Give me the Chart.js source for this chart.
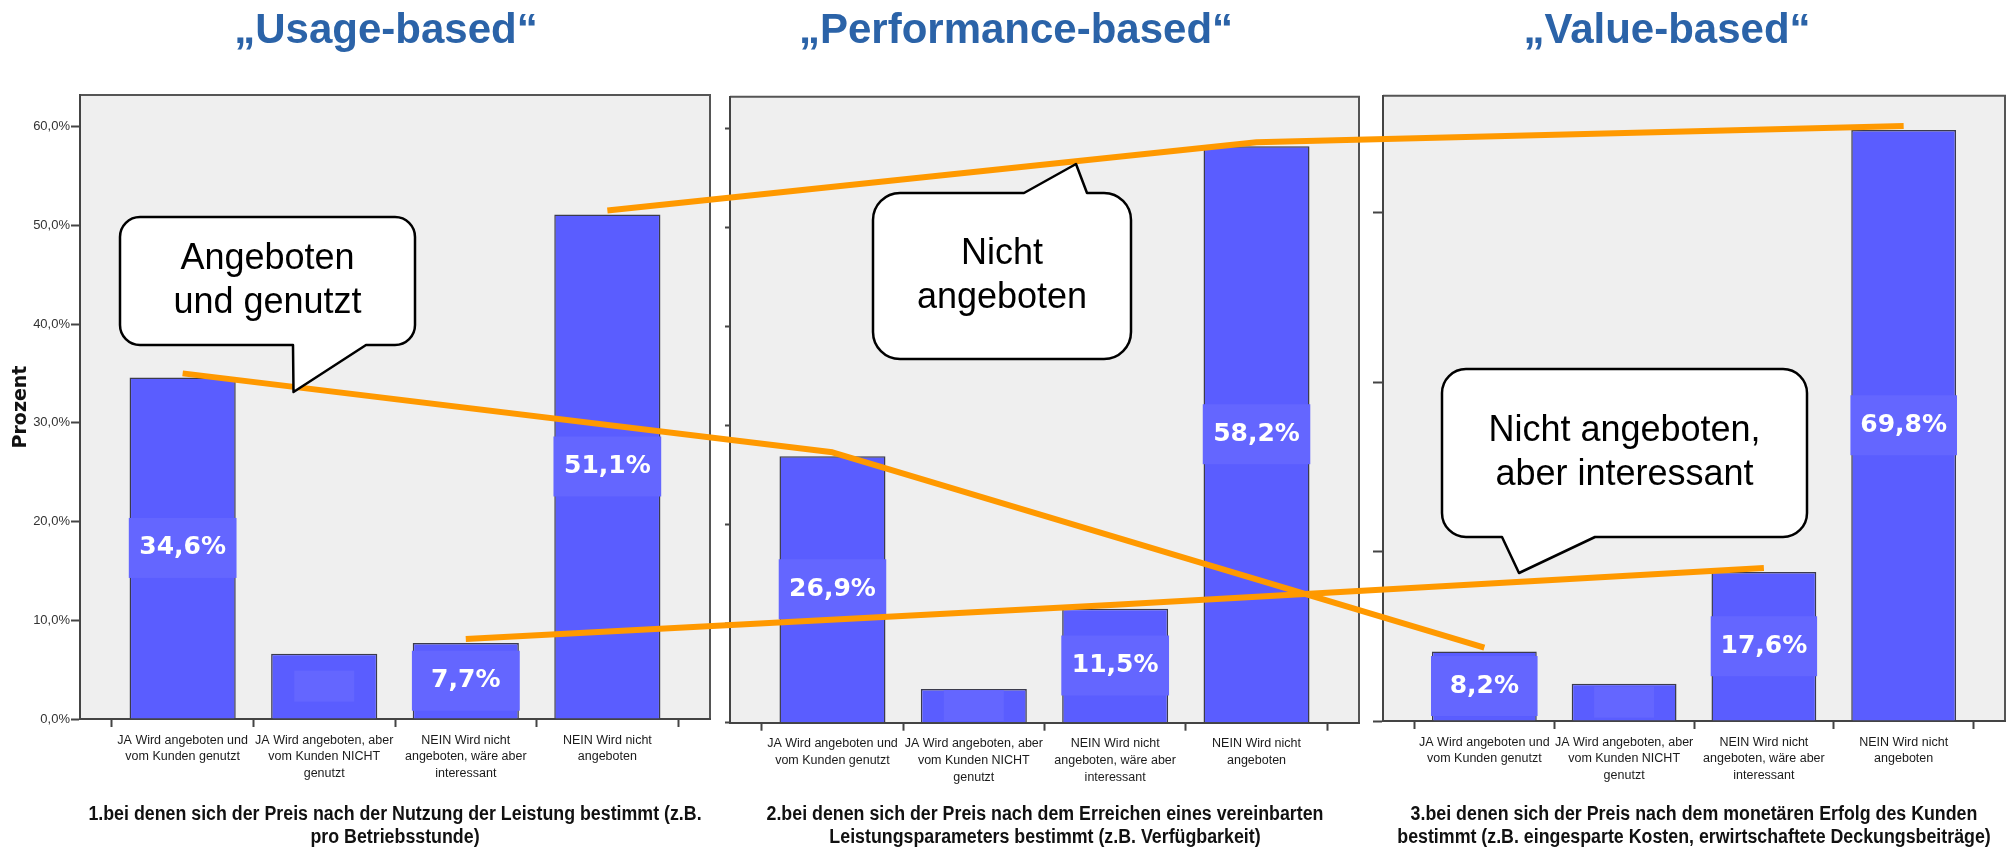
<!DOCTYPE html>
<html lang="de">
<head>
<meta charset="utf-8">
<title>Preismodelle: Usage-, Performance- und Value-based</title>
<script src="https://cdn.jsdelivr.net/npm/chart.js@4.4.1/dist/chart.umd.min.js"></script>
<style>
  html, body { margin: 0; padding: 0; background: #fff; overflow: hidden; }
  #stage { position: relative; width: 2007px; height: 851px; overflow: hidden; }
  #stage canvas { position: absolute; top: 0; }
  #overlay { z-index: 2; pointer-events: none; }
  .heading {
    position: absolute; top: 8px; transform: translateX(-50%);
    font: bold 42px 'Liberation Sans', Arial, sans-serif; line-height: 42px;
    color: #2B63A8; white-space: nowrap;
  }
  .caption {
    position: absolute; top: 802px; width: 0; white-space: nowrap;
    font: bold 20px 'Liberation Sans', Arial, sans-serif;
    line-height: 23px; color: #111;
  }
  .caption span {
    display: block; width: max-content;
    transform: translateX(-50%) scaleX(0.89); transform-origin: 50% 50%;
  }
</style>
</head>
<body>
<div id="stage">
  <canvas id="overlay" width="2007" height="851" style="left:0;width:2007px;height:851px"></canvas>
</div>
<script>
// ---- data ----
const CATEGORIES = [
  ['JA Wird angeboten und', 'vom Kunden genutzt'],
  ['JA Wird angeboten, aber', 'vom Kunden NICHT', 'genutzt'],
  ['NEIN Wird nicht', 'angeboten, wäre aber', 'interessant'],
  ['NEIN Wird nicht', 'angeboten']
];
const USAGE_PCT = [34.6, 6.6, 7.7, 51.1];
const PERFORMANCE_PCT = [26.9, 3.4, 11.5, 58.2];
const VALUE_PCT = [8.2, 4.4, 17.6, 69.8];
const SERIES = [USAGE_PCT, PERFORMANCE_PCT, VALUE_PCT];
const LABELLED = [true, false, true, true];
const TICKS_TEN = [0, 10, 20, 30, 40, 50, 60];
const TICKS_TWENTY = [0, 20, 40, 60];
const HEADINGS = ['„Usage-based“', '„Performance-based“', '„Value-based“'];
const CAPTIONS = [
  ['1.bei denen sich der Preis nach der Nutzung der Leistung bestimmt (z.B.', 'pro Betriebsstunde)'],
  ['2.bei denen sich der Preis nach dem Erreichen eines vereinbarten', 'Leistungsparameters bestimmt (z.B. Verfügbarkeit)'],
  ['3.bei denen sich der Preis nach dem monetären Erfolg des Kunden', 'bestimmt (z.B. eingesparte Kosten, erwirtschaftete Deckungsbeiträge)']
];
const CALLOUT_TEXT = [
  ['Angeboten', 'und genutzt'],
  ['Nicht', 'angeboten'],
  ['Nicht angeboten,', 'aber interessant']
];
// categories joined across the three panels by the orange trend lines
const TREND_CATEGORIES = [0, 3, 2];

// ---- layout & style ----
const H = 851;
const SANS = "'Liberation Sans', Arial, sans-serif";
const BAR = '#5A5DFF';
const BOX = '#6466FF';
const ORANGE = '#FF9900';

const PANELS = [
  { left: 0,    axis: 80, plot: 630, top: 95,   bottom: 719,   yMax: 63.2,  yTicks: TICKS_TEN,    tickLength: 9,  labelled: true,  headingX: 386 },
  { left: 705,  axis: 25, plot: 629, top: 96.7, bottom: 722.7, yMax: 63.2,  yTicks: TICKS_TEN,    tickLength: 5,  labelled: false, headingX: 1016 },
  { left: 1362, axis: 21, plot: 622, top: 95.7, bottom: 721,   yMax: 73.85, yTicks: TICKS_TWENTY, tickLength: 10, labelled: false, headingX: 1667 }
];

const CALLOUTS = [
  { text: CALLOUT_TEXT[0], box: [120, 217, 415, 345],  r: 20, tail: { side: 'bottom', from: 293,  to: 366,  tip: [293.5, 392] } },
  { text: CALLOUT_TEXT[1], box: [873, 193, 1131, 359], r: 27, tail: { side: 'top',    from: 1024, to: 1087, tip: [1076, 164] } },
  { text: CALLOUT_TEXT[2], box: [1442, 369, 1807, 537], r: 24, tail: { side: 'bottom', from: 1502, to: 1595, tip: [1519, 573] } }
];

const fmtPct = v => v.toFixed(1).replace('.', ',') + '%';

// grey plot background with frame on top and right
const plotFrame = {
  id: 'plotFrame',
  beforeDraw(chart) {
    const { ctx, chartArea: a } = chart;
    ctx.save();
    ctx.fillStyle = '#efefef';
    ctx.fillRect(a.left, a.top, a.right - a.left, a.bottom - a.top);
    ctx.strokeStyle = '#555';
    ctx.lineWidth = 2;
    ctx.beginPath();
    ctx.moveTo(a.left, a.top);
    ctx.lineTo(a.right, a.top);
    ctx.lineTo(a.right, a.bottom);
    ctx.stroke();
    ctx.restore();
  }
};

// percentage labels on lighter boxes in the middle of each bar
const valueBoxes = {
  id: 'valueBoxes',
  afterDatasetsDraw(chart) {
    const { ctx } = chart;
    const meta = chart.getDatasetMeta(0);
    const data = chart.data.datasets[0].data;
    meta.data.forEach((bar, i) => {
      const { x, y, base, width } = bar.getProps(['x', 'y', 'base', 'width'], true);
      const mid = (y + base) / 2;
      const shown = LABELLED[i];
      const bw = shown ? width + 2 : 60;
      const bh = shown ? 60 : 31;
      ctx.save();
      ctx.beginPath();
      ctx.rect(x - width / 2 - 1, y + 1, width + 2, base - y - 1);
      ctx.clip();
      ctx.fillStyle = BOX;
      ctx.fillRect(x - bw / 2, mid - bh / 2, bw, bh);
      ctx.restore();
      if (shown) {
        ctx.save();
        ctx.fillStyle = '#ffffff';
        ctx.font = "bold 25px 'DejaVu Sans', sans-serif";
        ctx.textAlign = 'center';
        ctx.textBaseline = 'middle';
        ctx.fillText(fmtPct(data[i].y), x, mid);
        ctx.restore();
      }
    });
  }
};

const stage = document.getElementById('stage');

HEADINGS.forEach((text, idx) => {
  const el = document.createElement('div');
  el.className = 'heading';
  el.style.left = PANELS[idx].headingX + 'px';
  el.textContent = text;
  stage.appendChild(el);
});

const charts = PANELS.map((p, idx) => {
  const canvas = document.createElement('canvas');
  const w = p.plot + 2 * p.axis;
  canvas.width = w;
  canvas.height = H;
  canvas.style.left = p.left + 'px';
  canvas.style.width = w + 'px';
  canvas.style.height = H + 'px';
  stage.insertBefore(canvas, document.getElementById('overlay'));

  // caption centred under the plot box
  const cap = document.createElement('div');
  cap.className = 'caption';
  cap.style.left = (p.left + p.axis + p.plot / 2) + 'px';
  CAPTIONS[idx].forEach(line => {
    const s = document.createElement('span');
    s.textContent = line;
    cap.appendChild(s);
  });
  stage.appendChild(cap);

  return new Chart(canvas, {
    type: 'bar',
    data: {
      datasets: [{
        data: SERIES[idx].map((v, i) => ({ x: i, y: v })),
        backgroundColor: BAR,
        borderColor: '#3b3b4c',
        borderWidth: 1.5,
        barPercentage: 0.75,
        categoryPercentage: 1
      }]
    },
    options: {
      responsive: false,
      animation: false,
      devicePixelRatio: 1,
      layout: { padding: { top: p.top, right: p.axis, left: 0, bottom: 0 } },
      plugins: { legend: { display: false }, tooltip: { enabled: false } },
      scales: {
        x: {
          type: 'linear', min: -0.725, max: 3.725, offset: false,
          afterBuildTicks: s => { s.ticks = CATEGORIES.map((_, i) => ({ value: i })); },
          afterFit: s => { s.height = H - p.bottom; },
          ticks: {
            callback: v => CATEGORIES[v],
            color: '#1a1a1a',
            font: { family: SANS, size: 12.5, lineHeight: 1.33 },
            padding: 5, maxRotation: 0, autoSkip: false
          },
          grid: { drawOnChartArea: false, drawTicks: true, tickLength: 8, tickWidth: 2, tickColor: '#444' },
          border: { color: '#444', width: 2 }
        },
        y: {
          min: 0, max: p.yMax,
          afterBuildTicks: s => { s.ticks = p.yTicks.map(v => ({ value: v })); },
          afterFit: s => { s.width = p.axis; },
          ticks: {
            display: p.labelled,
            callback: v => fmtPct(v),
            color: '#333',
            font: { family: SANS, size: 13 },
            padding: 1
          },
          grid: { drawOnChartArea: false, drawTicks: true, tickLength: p.tickLength, tickWidth: 2, tickColor: '#444' },
          border: { color: '#444', width: 2 },
          title: {
            display: p.labelled, text: 'Prozent', color: '#111',
            font: { family: "'DejaVu Sans', sans-serif", size: 19, weight: 'bold' },
            padding: { top: 10, bottom: 0 }
          }
        }
      }
    },
    plugins: [plotFrame, valueBoxes]
  });
});

// ---- trend lines and speech bubbles across the panels ----
const octx = document.getElementById('overlay').getContext('2d');

octx.save();
octx.strokeStyle = ORANGE;
octx.lineWidth = 6;
octx.lineJoin = 'round';
TREND_CATEGORIES.forEach(k => {
  octx.beginPath();
  charts.forEach((c, idx) => {
    const px = PANELS[idx].left + c.scales.x.getPixelForValue(k);
    const py = c.scales.y.getPixelForValue(SERIES[idx][k]) - 4;
    if (idx === 0) octx.moveTo(px, py); else octx.lineTo(px, py);
  });
  octx.stroke();
});
octx.restore();

function calloutPath(ctx, c) {
  const [x0, y0, x1, y1] = c.box;
  const r = c.r, t = c.tail;
  ctx.beginPath();
  ctx.moveTo(x0 + r, y0);
  if (t.side === 'top') {
    ctx.lineTo(t.from, y0);
    ctx.lineTo(t.tip[0], t.tip[1]);
    ctx.lineTo(t.to, y0);
  }
  ctx.lineTo(x1 - r, y0);
  ctx.arcTo(x1, y0, x1, y0 + r, r);
  ctx.lineTo(x1, y1 - r);
  ctx.arcTo(x1, y1, x1 - r, y1, r);
  if (t.side === 'bottom') {
    ctx.lineTo(t.to, y1);
    ctx.lineTo(t.tip[0], t.tip[1]);
    ctx.lineTo(t.from, y1);
  }
  ctx.lineTo(x0 + r, y1);
  ctx.arcTo(x0, y1, x0, y1 - r, r);
  ctx.lineTo(x0, y0 + r);
  ctx.arcTo(x0, y0, x0 + r, y0, r);
  ctx.closePath();
}

CALLOUTS.forEach(c => {
  octx.save();
  calloutPath(octx, c);
  octx.fillStyle = '#ffffff';
  octx.fill();
  octx.strokeStyle = '#000000';
  octx.lineWidth = 2.5;
  octx.lineJoin = 'round';
  octx.stroke();
  const cx = (c.box[0] + c.box[2]) / 2;
  const cy = (c.box[1] + c.box[3]) / 2;
  octx.fillStyle = '#000000';
  octx.font = "36px " + SANS;
  octx.textAlign = 'center';
  octx.textBaseline = 'middle';
  c.text.forEach((line, i) => {
    octx.fillText(line, cx, cy + (i - (c.text.length - 1) / 2) * 44);
  });
  octx.restore();
});
</script>
</body>
</html>
